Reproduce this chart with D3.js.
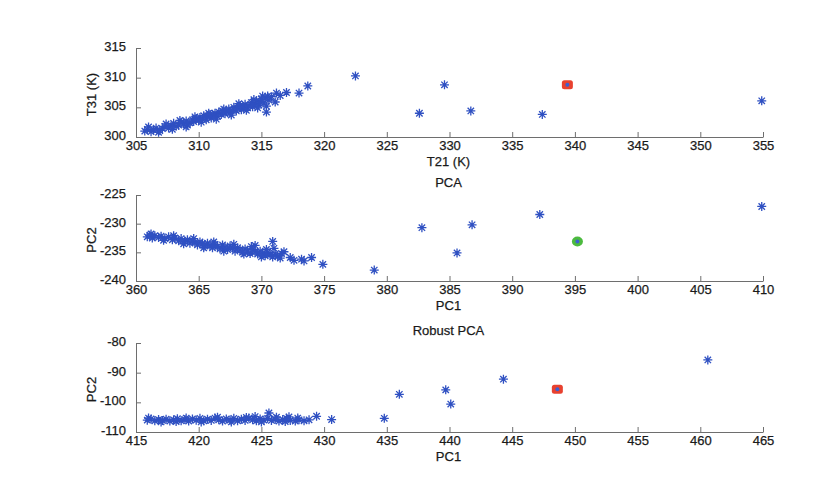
<!DOCTYPE html>
<html>
<head>
<meta charset="utf-8">
<script src="https://cdn.jsdelivr.net/npm/d3@7"></script>
<style>
  body { margin: 0; background: #fff; }
  text { font-family: "Liberation Sans", Arial, sans-serif; fill: #1a1a1a; stroke: #1a1a1a; stroke-width: 0.25; }
</style>
</head>
<body>
<div id="chart"></div>
<script>
// raw data: T21 / T31 brightness temperatures
var rawPoints = [
  [305.7,301.0],[305.9,301.3],[306.2,300.9],[306.4,301.2],[306.6,301.5],[306.9,301.1],
  [307.1,301.4],[307.3,301.8],[307.6,301.5],[307.8,301.9],[308.0,302.3],[308.2,301.8],
  [308.4,302.0],[308.6,302.5],[308.8,302.2],[309.0,302.7],[309.1,302.0],[309.3,302.4],
  [309.5,302.9],[309.6,302.6],[309.8,303.1],[310.0,302.8],[310.1,303.3],[310.3,303.0],
  [310.4,303.6],[310.6,302.9],[310.7,303.4],[310.9,303.8],[311.0,303.2],[311.2,303.6],
  [311.3,304.0],[311.5,303.5],[311.6,304.2],[311.8,303.8],[311.9,304.4],[312.1,303.9],
  [312.2,304.3],[312.4,304.7],[312.5,304.1],[312.7,304.5],[312.8,305.0],[313.0,304.4],
  [313.1,304.8],[313.3,305.3],[313.4,304.6],[313.6,305.0],[313.7,305.5],[313.9,304.9],
  [314.0,305.3],[314.2,305.8],[314.3,305.1],[314.5,305.6],[314.6,306.1],[314.8,305.4],
  [314.9,305.9],[315.0,306.4],[315.2,305.7],[315.3,306.6],[315.5,306.9],[315.6,306.2],
  [315.8,306.8],[316.1,305.9],[306.0,301.7],[306.8,300.8],[307.4,302.2],[307.9,301.3],
  [308.5,302.8],[309.0,301.7],[309.7,303.4],[310.2,302.5],[310.8,304.0],[311.4,303.0],
  [312.0,304.7],[312.6,303.7],[313.2,305.6],[313.8,304.5],[314.4,306.3],[314.7,304.9],
  [315.1,306.9],[315.4,305.2],[316.5,307.0],[315.4,304.2],[316.2,307.4],[317.0,307.5],
  [318.0,307.4],[318.7,308.6],[322.5,310.3],[327.6,304.0],[329.6,308.8],[331.7,304.4],
  [337.4,303.8],[354.9,306.1]
];
var rawMark = [339.4, 308.8];

// classical PCA scores
var pcaPoints = [
  [360.9,-232.3],[361.1,-232.0],[361.3,-232.5],[361.5,-232.1],[361.8,-232.4],[362.0,-232.2],
  [362.3,-232.6],[362.6,-232.3],[362.9,-232.8],[363.1,-232.5],[363.4,-233.0],[363.6,-232.6],
  [363.9,-233.1],[364.1,-232.8],[364.3,-233.4],[364.5,-233.0],[364.7,-233.3],[364.9,-233.7],
  [365.1,-233.2],[365.3,-233.5],[365.5,-233.9],[365.7,-233.4],[365.9,-233.8],[366.1,-234.2],
  [366.3,-233.6],[366.5,-234.0],[366.7,-234.4],[366.9,-233.7],[367.1,-234.1],[367.3,-234.5],
  [367.5,-233.9],[367.7,-234.3],[367.9,-234.8],[368.1,-234.2],[368.3,-234.6],[368.5,-235.0],
  [368.7,-234.4],[368.9,-234.8],[369.1,-235.2],[369.3,-234.5],[369.5,-233.8],[369.5,-234.9],
  [369.7,-235.3],[369.9,-234.8],[370.1,-235.2],[370.3,-235.6],[370.5,-235.0],[370.7,-235.4],
  [370.9,-235.8],[371.1,-235.3],[371.3,-235.7],[371.5,-236.0],[371.0,-234.3],[361.2,-231.8],
  [362.2,-232.9],[363.0,-232.1],[363.8,-233.5],[364.6,-232.6],[365.4,-234.2],[366.2,-233.2],
  [367.0,-234.8],[367.8,-233.6],[368.6,-235.3],[369.2,-234.0],[370.0,-235.8],[370.4,-234.5],
  [371.6,-235.2],[372.6,-236.4],[373.4,-236.5],[370.9,-233.1],[371.8,-234.9],[372.3,-235.9],
  [373.2,-236.2],[374.0,-235.9],[374.9,-237.1],[379.0,-238.1],[382.8,-230.7],[385.6,-235.1],
  [386.8,-230.2],[392.2,-228.4],[409.9,-227.0]
];
var pcaMark = [395.2, -233.1];

// robust PCA scores
var rpcaPoints = [
  [415.9,-106.0],[416.2,-105.6],[416.5,-106.2],[416.8,-105.8],[417.1,-106.1],[417.4,-105.7],
  [417.7,-106.3],[418.0,-105.9],[418.3,-105.5],[418.6,-106.2],[418.9,-105.8],[419.2,-106.3],
  [419.5,-105.6],[419.8,-106.0],[420.1,-105.4],[420.4,-106.2],[420.7,-105.7],[421.0,-106.1],
  [421.3,-105.3],[421.6,-105.9],[421.9,-106.3],[422.2,-105.6],[422.5,-106.0],[422.8,-105.4],
  [423.1,-106.2],[423.4,-105.7],[423.7,-106.1],[424.0,-105.3],[424.3,-105.9],[424.6,-106.2],
  [424.9,-105.6],[425.2,-106.0],[425.5,-105.4],[425.8,-106.1],[426.1,-105.7],[426.4,-106.3],
  [426.7,-105.8],[427.0,-105.4],[427.3,-106.1],[427.7,-106.3],[428.0,-105.9],[428.4,-106.2],
  [428.8,-105.9],[416.0,-105.3],[417.0,-106.6],[418.2,-106.5],[419.0,-105.3],[420.2,-106.6],
  [421.5,-105.0],[422.6,-106.6],[423.8,-105.1],[424.5,-104.8],[425.0,-106.6],[426.2,-105.0],
  [426.9,-106.5],[427.2,-104.9],[427.9,-105.3],[425.6,-103.6],[429.4,-104.7],[430.6,-105.8],
  [434.8,-105.4],[436.0,-97.3],[439.7,-95.8],[440.1,-100.6],[444.3,-92.2],[460.6,-85.7]
];
var rpcaMark = [448.6, -95.6];

var panels = [
  {title: "", xlab: "T21 (K)", ylab: "T31 (K)", xd: [305, 355], yd: [300, 315], yt: [300, 305, 310, 315],
   pts: rawPoints, mark: rawMark, markType: "square", top: 48, bottom: 137},
  {title: "PCA", xlab: "PC1", ylab: "PC2", xd: [360, 410], yd: [-240, -225], yt: [-240, -235, -230, -225],
   pts: pcaPoints, mark: pcaMark, markType: "circle", top: 195, bottom: 281},
  {title: "Robust PCA", xlab: "PC1", ylab: "PC2", xd: [415, 465], yd: [-110, -80], yt: [-110, -100, -90, -80],
   pts: rpcaPoints, mark: rpcaMark, markType: "square", top: 343, bottom: 432}
];

var left = 136, right = 763;

var svg = d3.select("#chart").append("svg")
    .attr("width", 833)
    .attr("height", 491)
    .style("background", "#fff");

var star = "M-4.5,0L4.5,0M0,-4.5L0,4.5M-3.2,-3.2L3.2,3.2M-3.2,3.2L3.2,-3.2";

// plain hyphen minus, like the original figure
var fmt = function(d) { return String(d); };

panels.forEach(function(p) {
  var x = d3.scaleLinear().domain(p.xd).range([left, right]);
  var y = d3.scaleLinear().domain(p.yd).range([p.bottom, p.top]);

  var g = svg.append("g");

  // axes (box off, ticks pointing in)
  var xAxis = g.append("g")
      .attr("transform", "translate(0," + p.bottom + ")")
      .call(d3.axisBottom(x).tickValues(d3.range(p.xd[0], p.xd[1] + 1, 5)).tickFormat(fmt)
        .tickSizeInner(-5).tickSizeOuter(0).tickPadding(4));
  var yAxis = g.append("g")
      .attr("transform", "translate(" + left + ",0)")
      .call(d3.axisLeft(y).tickValues(p.yt).tickFormat(fmt)
        .tickSizeInner(-5).tickSizeOuter(0).tickPadding(10));

  [xAxis, yAxis].forEach(function(a) {
    a.select(".domain").attr("stroke", "#6e6e6e");
    a.selectAll(".tick line").attr("stroke", "#6e6e6e");
    a.selectAll(".tick text").style("font-size", "13px").attr("fill", "#1a1a1a")
      .style("font-family", "'Liberation Sans', Arial, sans-serif");
  });
  yAxis.selectAll(".tick text").attr("dy", "0.2em");

  g.append("text")
      .attr("x", (left + right) / 2 - 1)
      .attr("y", p.bottom + 29)
      .attr("text-anchor", "middle")
      .style("font-size", "13px")
      .text(p.xlab);

  g.append("text")
      .attr("transform", "translate(96," + ((p.top + p.bottom) / 2 + 2) + ") rotate(-90)")
      .attr("text-anchor", "middle")
      .style("font-size", "13px")
      .text(p.ylab);

  if (p.title) {
    g.append("text")
        .attr("x", (left + right) / 2 - 1)
        .attr("y", p.top - 8)
        .attr("text-anchor", "middle")
        .style("font-size", "13px")
        .text(p.title);
  }

  g.selectAll(".pt")
    .data(p.pts).enter()
    .append("path")
    .attr("class", "pt")
    .attr("transform", function(d) { return "translate(" + x(d[0]) + "," + y(d[1]) + ")"; })
    .attr("d", star)
    .attr("fill", "none")
    .attr("stroke", "#2f50c2")
    .attr("stroke-width", 1.3);

  // highlighted observation
  var mx = x(p.mark[0]), my = y(p.mark[1]);
  if (p.markType == "square") {
    g.append("rect")
        .attr("x", mx - 5.5).attr("y", my - 4.5)
        .attr("width", 11).attr("height", 9)
        .attr("rx", 2.5)
        .attr("fill", "#e8412f");
  } else {
    g.append("ellipse")
        .attr("cx", mx).attr("cy", my)
        .attr("rx", 5.5).attr("ry", 5)
        .attr("fill", "#4cba3e");
  }
  g.append("circle")
      .attr("cx", mx).attr("cy", my)
      .attr("r", 2)
      .attr("fill", "#3c5fd0");
});
</script>
</body>
</html>
